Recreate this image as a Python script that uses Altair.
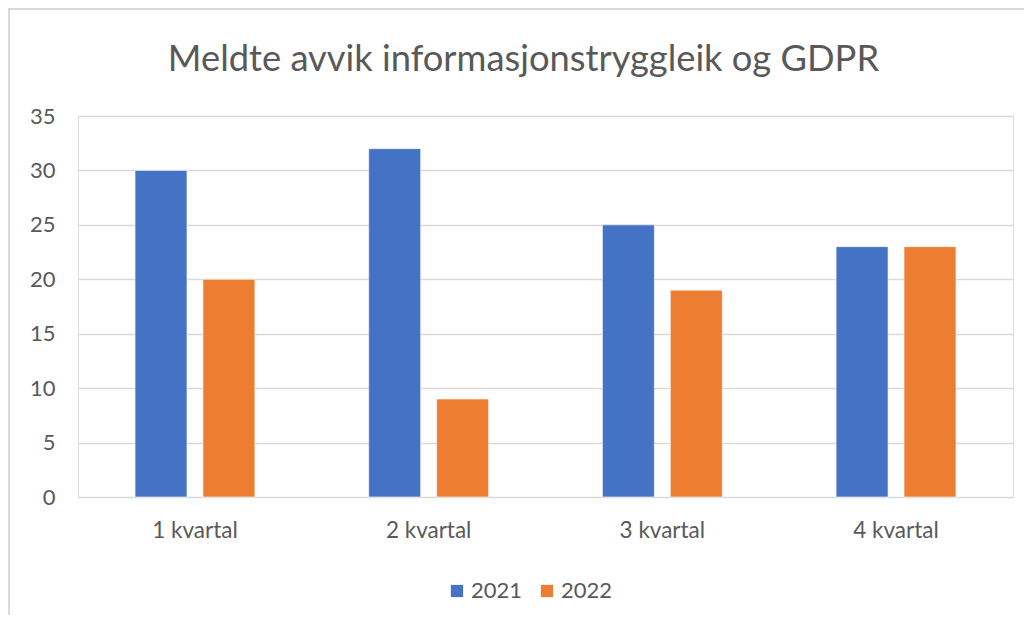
import altair as alt
import pandas as pd

quarters = ["1 kvartal", "2 kvartal", "3 kvartal", "4 kvartal"]
years = ["2021", "2022"]
values_2021 = [30, 32, 25, 23]
values_2022 = [20, 9, 19, 23]
y_ticks = [0, 5, 10, 15, 20, 25, 30, 35]
colors = ["#4472C4", "#ED7D31"]

rows = []
for q, a, b in zip(quarters, values_2021, values_2022):
    rows.append({"kvartal": q, "år": years[0], "avvik": a})
    rows.append({"kvartal": q, "år": years[1], "avvik": b})
df = pd.DataFrame(rows)

FONT = "Lato"
TXT = "#595959"
W, H = 935, 381
PL, PT, PR, PB = 70, 108, 11, 118

bars = alt.Chart(df).mark_bar(stroke="#ffffff", strokeWidth=0.6).encode(
    x=alt.X("kvartal:N", sort=quarters,
            scale=alt.Scale(paddingInner=0.487, paddingOuter=0.244),
            axis=alt.Axis(title=None, labelAngle=0, ticks=False, domain=False,
                          labelFontSize=22.5, labelColor=TXT, labelFont=FONT,
                          labelPadding=22, grid=False)),
    xOffset=alt.XOffset("år:N", sort=years,
                        scale=alt.Scale(paddingInner=0.235, paddingOuter=0)),
    y=alt.Y("avvik:Q", scale=alt.Scale(domain=[0, 35], nice=False),
            axis=alt.Axis(title=None, values=y_ticks, ticks=False, domain=False,
                          labelFontSize=22, labelColor=TXT, labelFont=FONT,
                          labelPadding=23, gridColor="#d9d9d9", gridWidth=1.6)),
    color=alt.Color("år:N", sort=years,
                    scale=alt.Scale(domain=years, range=colors),
                    legend=alt.Legend(title=None, orient="none", direction="horizontal",
                                      legendX=368, legendY=464,
                                      symbolType="square", symbolSize=150,
                                      symbolStrokeWidth=0, labelFontSize=22,
                                      labelColor=TXT, labelFont=FONT,
                                      labelOffset=3, columnPadding=13, padding=0)),
)

border = alt.Chart(pd.DataFrame({"b": [0]})).mark_rect(
    filled=False, stroke="#d9d9d9", strokeWidth=2, clip=False
).encode(
    x=alt.value(-PL + 1), x2=alt.value(W + 200),
    y=alt.value(-PT + 1), y2=alt.value(H + 300),
)

chart = alt.layer(border, bars).properties(
    width=W, height=H,
    padding={"left": PL, "top": PT, "right": PR, "bottom": PB},
    autosize=alt.AutoSizeParams(type="none"),
    title=alt.TitleParams("Meldte avvik informasjonstryggleik og GDPR",
                          font=FONT, fontSize=36.3, fontWeight="normal", color=TXT,
                          anchor="middle", dx=-22, offset=0, dy=70),
).configure_view(stroke=None).configure(background="white")

chart.save("out.html", embed_options={"renderer": "svg", "actions": False})
